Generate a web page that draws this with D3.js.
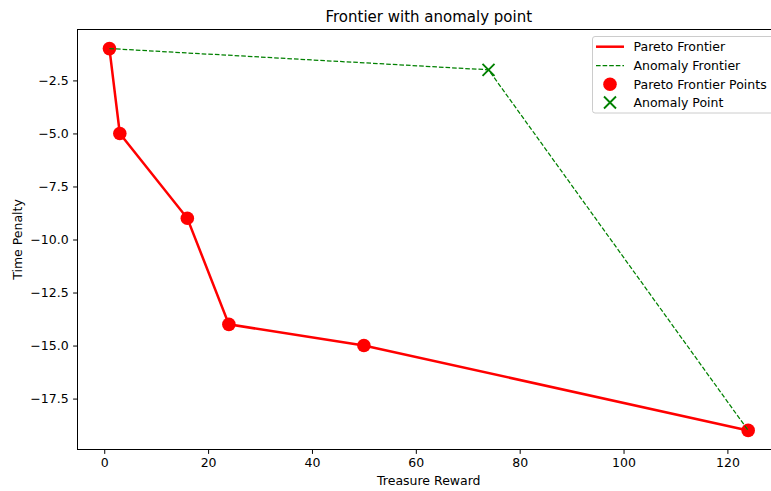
<!DOCTYPE html>
<html>
<head>
<meta charset="utf-8">
<script src="https://cdn.jsdelivr.net/npm/d3@7"></script>
<style>
  body { margin: 0; background: #fff; }
  svg { display: block; font-family: "DejaVu Sans", sans-serif; }
</style>
</head>
<body>
<script>
// dati del grafico
const paretoX = [1, 3, 16, 24, 50, 124];
const paretoY = [-1, -5, -9, -14, -15, -19];
const anomalyX = [1, 74, 124];
const anomalyY = [-1, -2, -19];
const xTicks = [0, 20, 40, 60, 80, 100, 120];
const yTicks = [-2.5, -5, -7.5, -10, -12.5, -15, -17.5];

const width = 771, height = 491;
const mLeft = 77.5, mRight = 780.1, mTop = 29.5, mBottom = 449.5;

const svg = d3.select('body').append('svg')
  .attr('width', width)
  .attr('height', height);

const x = d3.scaleLinear().domain([-5.15, 130.15]).range([mLeft, mRight]);
const y = d3.scaleLinear().domain([-0.1, -19.9]).range([mTop, mBottom]);

// punti (sotto le linee, come in matplotlib)
svg.append('g').selectAll('circle')
  .data(paretoX)
  .join('circle')
  .attr('cx', d => x(d))
  .attr('cy', (d, i) => y(paretoY[i]))
  .attr('r', 6.8)
  .attr('fill', '#ff0000');

// punto anomalo
const ax = x(anomalyX[1]), ay = y(anomalyY[1]);
svg.append('path')
  .attr('d', `M${ax - 6},${ay - 6}L${ax + 6},${ay + 6}M${ax - 6},${ay + 6}L${ax + 6},${ay - 6}`)
  .attr('stroke', '#008000')
  .attr('stroke-width', 1.9);

// frontiera di Pareto
const line = d3.line().x(d => x(d[0])).y(d => y(d[1]));
svg.append('path')
  .datum(paretoX.map((d, i) => [d, paretoY[i]]))
  .attr('d', line)
  .attr('fill', 'none')
  .attr('stroke', '#ff0000')
  .attr('stroke-width', 2.5);

// frontiera anomala
svg.append('path')
  .datum(anomalyX.map((d, i) => [d, anomalyY[i]]))
  .attr('d', line)
  .attr('fill', 'none')
  .attr('stroke', '#008000')
  .attr('stroke-width', 1.25)
  .attr('stroke-dasharray', '4.6,2');

// assi
const xAxis = svg.append('g')
  .attr('transform', `translate(0,${mBottom})`)
  .call(d3.axisBottom(x).tickValues(xTicks).tickSizeOuter(0).tickSize(4.4).tickPadding(4.5));
const yAxis = svg.append('g')
  .attr('transform', `translate(${mLeft},0)`)
  .call(d3.axisLeft(y).tickValues(yTicks).tickFormat(d3.format('.1f')).tickSizeOuter(0).tickSize(4.4).tickPadding(4.5));
[xAxis, yAxis].forEach(a => {
  a.selectAll('text').attr('font-size', 12.5).attr('font-family', 'DejaVu Sans').attr('fill', '#000');
  a.selectAll('line').attr('stroke', '#000').attr('stroke-width', 1);
  a.select('.domain').remove();
});

// bordi
svg.append('rect')
  .attr('x', mLeft).attr('y', mTop)
  .attr('width', mRight - mLeft).attr('height', mBottom - mTop)
  .attr('fill', 'none').attr('stroke', '#000').attr('stroke-width', 1);

// titolo ed etichette
svg.append('text')
  .attr('x', (mLeft + mRight) / 2).attr('y', 22)
  .attr('text-anchor', 'middle').attr('font-size', 15)
  .text('Frontier with anomaly point');
svg.append('text')
  .attr('x', (mLeft + mRight) / 2).attr('y', 485)
  .attr('text-anchor', 'middle').attr('font-size', 12.5)
  .text('Treasure Reward');
svg.append('text')
  .attr('transform', `translate(22,${(mTop + mBottom) / 2}) rotate(-90)`)
  .attr('text-anchor', 'middle').attr('font-size', 12.5)
  .text('Time Penalty');

// legenda
const legend = svg.append('g');
legend.append('rect')
  .attr('x', 592.5).attr('y', 36.5)
  .attr('width', 182).attr('height', 76.5)
  .attr('rx', 2.5)
  .attr('fill', 'rgba(255,255,255,0.8)')
  .attr('stroke', '#cccccc').attr('stroke-width', 1);

const rows = [46.7, 65.5, 84.3, 102.5];
const labels = ['Pareto Frontier', 'Anomaly Frontier', 'Pareto Frontier Points', 'Anomaly Point'];
legend.append('line')
  .attr('x1', 596).attr('x2', 624).attr('y1', rows[0]).attr('y2', rows[0])
  .attr('stroke', '#ff0000').attr('stroke-width', 2.5);
legend.append('line')
  .attr('x1', 596).attr('x2', 624).attr('y1', rows[1]).attr('y2', rows[1])
  .attr('stroke', '#008000').attr('stroke-width', 1.25).attr('stroke-dasharray', '4.6,2');
legend.append('circle')
  .attr('cx', 610).attr('cy', rows[2]).attr('r', 6.8).attr('fill', '#ff0000');
legend.append('path')
  .attr('d', `M604,${rows[3] - 6}L616,${rows[3] + 6}M604,${rows[3] + 6}L616,${rows[3] - 6}`)
  .attr('stroke', '#008000').attr('stroke-width', 1.9);
legend.selectAll('text.lab')
  .data(labels)
  .join('text')
  .attr('class', 'lab')
  .attr('x', 633.5)
  .attr('y', (d, i) => rows[i] + 4.5)
  .attr('font-size', 12.5)
  .text(d => d);
</script>
</body>
</html>
